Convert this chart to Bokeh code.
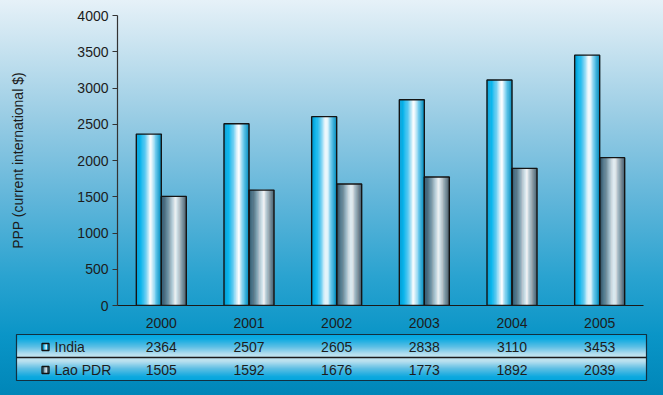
import numpy as np
from bokeh.plotting import figure
from bokeh.models import Range1d, FixedTicker, ColumnDataSource
from bokeh.embed import file_html
from bokeh.resources import INLINE
from bokeh.core.properties import value

# ---------------- data ----------------
years = ["2000", "2001", "2002", "2003", "2004", "2005"]
india = [2364, 2507, 2605, 2838, 3110, 3453]
lao = [1505, 1592, 1676, 1773, 1892, 2039]
series_names = ["India", "Lao PDR"]
y_ticks = [0, 500, 1000, 1500, 2000, 2500, 3000, 3500, 4000]
y_label = "PPP (current international $)"

# ---------------- layout / style ----------------
W = 663
H_MAIN = 330
H_TAB = 65
H_ALL = H_MAIN + H_TAB
LEFT, RIGHT, TOP, BOTTOM = 117, 20, 15, 25
n = len(years)
S = (W - LEFT - RIGHT) / n          # pixels per category
BAR_W = 25 / S                      # bar width in data units
FONT = value("Liberation Sans")
TXT = "#1c1c1c"
FS = "14px"

BG = ("linear-gradient(to bottom, #e6f1f8 0%, #cde5f1 10%, #98cce4 30%, "
      "#62b6da 50%, #2aa3d0 70%, #0a95c7 85%, #0086b8 100%)")

INDIA_STOPS = [(0.0, "#009fd6"), (0.18, "#0cb8f0"), (0.38, "#6fd0f3"),
               (0.56, "#ffffff"), (0.64, "#f2fbff"), (0.8, "#6ccbee"), (1.0, "#0a93c4")]
LAO_STOPS = [(0.0, "#33566a"), (0.25, "#6d8b9b"), (0.45, "#c2d1d9"),
             (0.6, "#f7f9fa"), (0.78, "#a7b5bd"), (1.0, "#536773")]


def hex2rgb(h):
    h = h.lstrip("#")
    return np.array([int(h[i:i + 2], 16) for i in (0, 2, 4)], dtype=float)


def grad(stops, t):
    for (t0, c0), (t1, c1) in zip(stops[:-1], stops[1:]):
        if t0 <= t <= t1:
            f = 0 if t1 == t0 else (t - t0) / (t1 - t0)
            c = hex2rgb(c0) * (1 - f) + hex2rgb(c1) * f
            return "#%02x%02x%02x" % tuple(int(round(v)) for v in c)
    return stops[-1][1]


# ---------------- main chart ----------------
p = figure(width=W, height=H_MAIN, x_range=Range1d(-0.5, n - 0.5), y_range=Range1d(0, 4000),
           output_backend="svg", toolbar_location=None,
           min_border_left=LEFT, min_border_right=RIGHT, min_border_top=TOP,
           min_border_bottom=BOTTOM, background_fill_color=None, border_fill_color=None,
           outline_line_color=None,
           styles={"background": BG + " 0px 0px / %dpx %dpx no-repeat" % (W, H_ALL)})
p.xgrid.visible = False
p.ygrid.visible = False

NSTRIP = 20
xs, tops, cols = [], [], []
for vals, offset, stops in ((india, -0.5, INDIA_STOPS), (lao, 0.5, LAO_STOPS)):
    for i, v in enumerate(vals):
        center = i + offset * BAR_W
        for k in range(NSTRIP):
            xs.append(center - BAR_W / 2 + (k + 0.5) * BAR_W / NSTRIP)
            tops.append(v)
            cols.append(grad(stops, k / (NSTRIP - 1)))
strips = ColumnDataSource(dict(x=xs, top=tops, color=cols))
p.vbar(x="x", top="top", bottom=0, width=BAR_W / NSTRIP * 1.02, source=strips,
       fill_color="color", line_color="color", line_width=0.4)

outline = ColumnDataSource(dict(
    x=[i - 0.5 * BAR_W for i in range(n)] + [i + 0.5 * BAR_W for i in range(n)],
    top=india + lao))
p.vbar(x="x", top="top", bottom=0, width=BAR_W, source=outline,
       fill_color=None, line_color="#141414", line_width=1.4)

xa = p.xaxis[0]
xa.ticker = FixedTicker(ticks=list(range(n)))
xa.major_label_overrides = {i: y for i, y in enumerate(years)}
xa.major_tick_line_color = None
xa.minor_tick_line_color = None
xa.axis_line_color = "#1a1a1a"
xa.axis_line_width = 1.2
xa.major_label_standoff = 6
xa.major_label_text_font = "Liberation Sans"
xa.major_label_text_font_size = FS
xa.major_label_text_color = TXT

ya = p.yaxis[0]
ya.ticker = FixedTicker(ticks=y_ticks)
ya.major_tick_out = 5
ya.major_tick_in = 0
ya.minor_tick_line_color = None
ya.axis_line_color = "#333333"
ya.axis_line_width = 1.2
ya.major_tick_line_color = "#333333"
ya.major_label_standoff = 4
ya.major_label_text_font = "Liberation Sans"
ya.major_label_text_font_size = FS
ya.major_label_text_color = TXT
ya.axis_label = y_label
ya.axis_label_text_font = "Liberation Sans"
ya.axis_label_text_font_style = "normal"
ya.axis_label_text_font_size = FS
ya.axis_label_text_color = TXT
ya.axis_label_standoff = 48


# ---------------- data table ----------------
def px2x(px):
    return (px - LEFT) / S - 0.5


t = figure(width=W, height=H_TAB, x_range=Range1d(px2x(0), px2x(W)), y_range=Range1d(H_TAB, 0),
           output_backend="svg", toolbar_location=None, min_border=0,
           min_border_left=0, min_border_right=0, min_border_top=0, min_border_bottom=0,
           background_fill_color=None, border_fill_color=None, outline_line_color=None,
           styles={"background": BG + " 0px -%dpx / %dpx %dpx no-repeat" % (H_MAIN, W, H_ALL)})
t.axis.visible = False
t.grid.visible = False

TAB_L, TAB_R, TAB_T, TAB_B = 16, 646, 4, 50
MID = (TAB_T + TAB_B) / 2 + 0.5
TAB_STOPS = [(0.0, "#ffffff"), (0.15, "#f4fbfe"), (0.45, "#7fd0f0"), (0.8, "#12b2ea"), (1.0, "#02ade8")]
ys0, ys1, tcols = [], [], []
for yy in range(TAB_T, TAB_B):
    c = yy + 0.5
    tt = min(1.0, abs(c - MID) / (MID - TAB_T))
    ys0.append(yy)
    ys1.append(yy + 1.05)
    tcols.append(grad(TAB_STOPS, tt))
t.quad(left=px2x(TAB_L), right=px2x(TAB_R), top=ys0, bottom=ys1, fill_color=tcols,
       line_color=None)
t.quad(left=px2x(TAB_L), right=px2x(TAB_R), top=TAB_T, bottom=TAB_B, fill_color=None,
       line_color="#123040", line_width=1.2)
t.segment(x0=px2x(TAB_L), x1=px2x(TAB_R), y0=MID - 0.5, y1=MID - 0.5, line_color="#1a1a1a",
          line_width=1.4)

row_y = [16.5, 39.5]
for r, (name, vals, stops) in enumerate(((series_names[0], india, INDIA_STOPS),
                                         (series_names[1], lao, LAO_STOPS))):
    for k in range(4):
        t.rect(x=px2x(42 + k * 1.5 + 0.75), y=row_y[r], width=1.6, height=7,
               width_units="screen", height_units="screen",
               fill_color=grad(stops, k / 3), line_color=None)
    t.rect(x=px2x(45), y=row_y[r], width=7, height=7, width_units="screen",
           height_units="screen", fill_color=None, line_color="#111111", line_width=1.3)
    t.text(x=[px2x(54)], y=[row_y[r]], text=[name], text_font=FONT, text_font_size=FS,
           text_color=TXT, text_align="left", text_baseline="middle")
    t.text(x=list(range(n)), y=[row_y[r]] * n, text=[str(v) for v in vals], text_font=FONT,
           text_font_size=FS, text_color=TXT, text_align="center", text_baseline="middle")

open("out.html", "w").write(file_html([p, t], INLINE))
